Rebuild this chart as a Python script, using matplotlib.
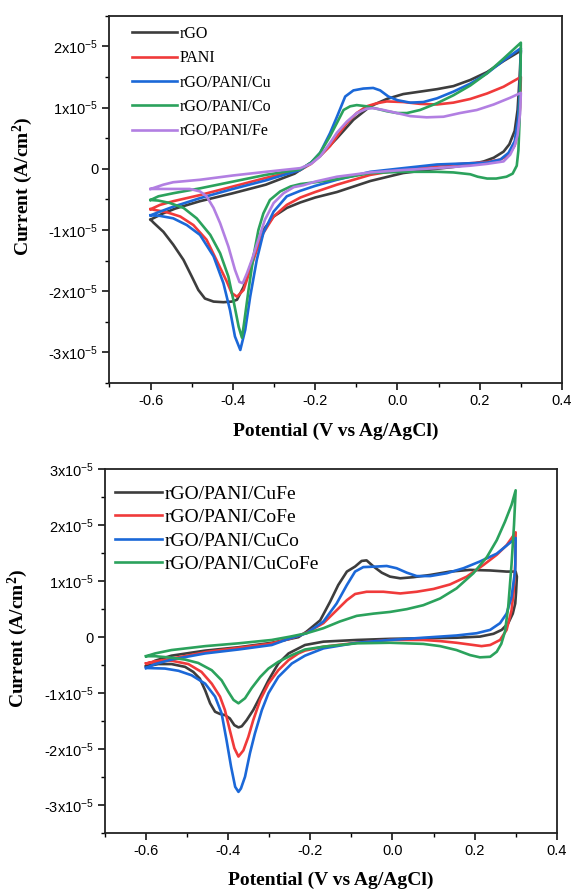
import matplotlib
matplotlib.use("Agg")
import matplotlib.pyplot as plt
from matplotlib.ticker import MultipleLocator, FuncFormatter

plt.rcParams["font.family"] = "Liberation Sans"
plt.rcParams["mathtext.default"] = "regular"

# Colours (Origin style)
c_black = "#3d3d3d"
c_red = "#f03a3a"
c_blue = "#1b68d8"
c_green = "#2ba25c"
c_purple = "#b27fe2"

SCALE = 1e-5   # currents below are in units of 1e-5 A/cm2

# ---------------- Top panel ----------------

top_labels = ["rGO", "PANI", "rGO/PANI/Cu", "rGO/PANI/Co", "rGO/PANI/Fe"]

rgo_v = [-0.6, -0.57, -0.54, -0.48, -0.40, -0.32, -0.25, -0.21, -0.188, -0.147, -0.107, -0.066,
         -0.026, 0.014, 0.055, 0.096, 0.136, 0.177, 0.218, 0.258, 0.30,
         0.297, 0.292, 0.285, 0.272, 0.258, 0.234, 0.21, 0.177, 0.136, 0.096, 0.014, -0.066,
         -0.147, -0.20, -0.236, -0.269, -0.301, -0.326, -0.342, -0.358, -0.374, -0.39, -0.403,
         -0.423, -0.447, -0.468, -0.484, -0.50, -0.52, -0.545, -0.569, -0.593, -0.60]
rgo_i = [-0.83, -0.73, -0.65, -0.53, -0.40, -0.26, -0.08, 0.10, 0.21, 0.50, 0.80, 1.02,
         1.14, 1.22, 1.26, 1.30, 1.35, 1.45, 1.58, 1.76, 1.93,
         1.50, 0.96, 0.62, 0.40, 0.28, 0.18, 0.12, 0.07, 0.03, 0.00, -0.07, -0.20,
         -0.38, -0.47, -0.55, -0.64, -0.78, -1.00, -1.27, -1.60, -1.93, -2.14, -2.17,
         -2.18, -2.17, -2.12, -1.98, -1.76, -1.49, -1.24, -1.03, -0.88, -0.83]

pani_v = [-0.6, -0.577, -0.545, -0.48, -0.40, -0.32, -0.236, -0.21, -0.188, -0.164, -0.147,
          -0.123, -0.099, -0.075, -0.05, -0.026, 0.014, 0.055, 0.096, 0.136, 0.177, 0.218,
          0.258, 0.30,
          0.298, 0.293, 0.285, 0.27, 0.25, 0.218, 0.177, 0.096, 0.014, -0.066, -0.147, -0.20,
          -0.236, -0.269, -0.301, -0.326, -0.342, -0.358, -0.374, -0.39, -0.403, -0.415,
          -0.44, -0.464, -0.496, -0.528, -0.561, -0.60]
pani_i = [-0.66, -0.59, -0.53, -0.43, -0.29, -0.15, -0.02, 0.08, 0.21, 0.37, 0.53,
          0.75, 0.91, 1.02, 1.07, 1.10, 1.09, 1.06, 1.05, 1.08, 1.14, 1.23,
          1.34, 1.50,
          1.00, 0.60, 0.38, 0.22, 0.15, 0.11, 0.09, 0.05, -0.01, -0.10, -0.26, -0.38,
          -0.47, -0.59, -0.78, -1.05, -1.33, -1.65, -1.98, -2.09, -2.03, -1.84,
          -1.49, -1.16, -0.92, -0.78, -0.71, -0.66]

cu_v = [-0.6, -0.577, -0.545, -0.48, -0.40, -0.32, -0.236, -0.21, -0.188, -0.164, -0.147,
        -0.127, -0.107, -0.083, -0.059, -0.042, -0.022, 0.0, 0.031, 0.063, 0.096, 0.136,
        0.177, 0.218, 0.258, 0.30,
        0.297, 0.293, 0.285, 0.27, 0.25, 0.218, 0.177, 0.096, 0.014, -0.066, -0.147, -0.20,
        -0.236, -0.269, -0.301, -0.326, -0.342, -0.358, -0.370, -0.382, -0.395, -0.407,
        -0.423, -0.447, -0.48, -0.512, -0.545, -0.577, -0.60]
cu_i = [-0.76, -0.70, -0.62, -0.48, -0.33, -0.19, -0.02, 0.10, 0.26, 0.58, 0.85,
        1.18, 1.28, 1.31, 1.32, 1.28, 1.18, 1.12, 1.08, 1.09, 1.15, 1.26,
        1.39, 1.56, 1.77, 1.97,
        1.20, 0.80, 0.45, 0.26, 0.15, 0.10, 0.09, 0.07, 0.01, -0.05, -0.18, -0.28,
        -0.36, -0.45, -0.70, -1.05, -1.49, -2.09, -2.63, -2.96, -2.74, -2.31,
        -1.87, -1.43, -1.08, -0.92, -0.81, -0.77, -0.76]

co_v = [-0.6, -0.581, -0.545, -0.48, -0.40, -0.32, -0.236, -0.21, -0.188, -0.164, -0.147,
        -0.131, -0.115, -0.099, -0.075, -0.05, -0.026, -0.001, 0.023, 0.055, 0.096, 0.136,
        0.177, 0.218, 0.258, 0.30,
        0.299, 0.297, 0.294, 0.29, 0.28, 0.265, 0.24, 0.218, 0.195, 0.177, 0.136, 0.096,
        0.014, -0.066, -0.147, -0.20, -0.236, -0.26, -0.285, -0.31, -0.326, -0.338, -0.35,
        -0.362, -0.373, -0.378, -0.386, -0.399, -0.411, -0.431, -0.455, -0.488, -0.52,
        -0.553, -0.581, -0.60]
co_i = [-0.51, -0.45, -0.40, -0.32, -0.21, -0.10, -0.01, 0.10, 0.26, 0.53, 0.75,
        0.96, 1.02, 1.04, 1.02, 0.98, 0.94, 0.91, 0.91, 0.96, 1.07, 1.20,
        1.36, 1.56, 1.80, 2.06,
        1.50, 0.80, 0.30, 0.05, -0.08, -0.13, -0.16, -0.16, -0.13, -0.09, -0.06, -0.05,
        -0.05, -0.07, -0.17, -0.22, -0.25, -0.29, -0.37, -0.51, -0.73, -1.00, -1.43,
        -1.98, -2.53, -2.76, -2.58, -2.14, -1.76, -1.38, -1.08, -0.81, -0.64,
        -0.56, -0.52, -0.51]

fe_v = [-0.6, -0.569, -0.545, -0.48, -0.40, -0.32, -0.236, -0.21, -0.188, -0.164, -0.147,
        -0.123, -0.099, -0.075, -0.059, -0.034, -0.001, 0.031, 0.071, 0.112, 0.152, 0.193,
        0.234, 0.274, 0.30,
        0.298, 0.292, 0.285, 0.274, 0.258, 0.218, 0.177, 0.096, 0.014, -0.066, -0.147, -0.20,
        -0.229, -0.252, -0.277, -0.301, -0.322, -0.338, -0.354, -0.366, -0.376, -0.384,
        -0.395, -0.411, -0.431, -0.447, -0.464, -0.48, -0.505, -0.537, -0.569, -0.60]
fe_i = [-0.33, -0.26, -0.22, -0.18, -0.11, -0.05, 0.01, 0.08, 0.20, 0.42, 0.59,
        0.77, 0.91, 0.98, 0.99, 0.96, 0.91, 0.86, 0.84, 0.85, 0.91, 0.96,
        1.05, 1.16, 1.24,
        0.90, 0.55, 0.38, 0.23, 0.12, 0.08, 0.05, 0.01, -0.02, -0.06, -0.13, -0.21,
        -0.27, -0.30, -0.40, -0.56, -0.83, -1.16, -1.49, -1.71, -1.87, -1.85,
        -1.65, -1.27, -0.89, -0.64, -0.45, -0.37, -0.33, -0.33, -0.33, -0.33]

# ---------------- Bottom panel ----------------

bottom_labels = ["rGO/PANI/CuFe", "rGO/PANI/CoFe", "rGO/PANI/CuCo", "rGO/PANI/CuCoFe"]

cufe_v = [-0.6, -0.578, -0.538, -0.456, -0.375, -0.294, -0.229, -0.209, -0.176, -0.152, -0.132,
          -0.111, -0.091, -0.075, -0.063, -0.046, -0.026, -0.006, 0.019, 0.051, 0.092, 0.14,
          0.189, 0.238, 0.278, 0.30,
          0.303, 0.301, 0.299, 0.293, 0.282, 0.266, 0.246, 0.213, 0.156, 0.075, -0.006,
          -0.087, -0.168, -0.213, -0.229, -0.253, -0.278, -0.302, -0.322, -0.339, -0.355,
          -0.367, -0.375, -0.385, -0.396, -0.408, -0.42, -0.432, -0.444, -0.456, -0.469,
          -0.485, -0.505, -0.538, -0.57, -0.60]
cufe_i = [-0.52, -0.42, -0.33, -0.24, -0.18, -0.10, 0.00, 0.10, 0.30, 0.63, 0.93,
          1.17, 1.26, 1.36, 1.37, 1.26, 1.15, 1.08, 1.05, 1.07, 1.11, 1.17,
          1.20, 1.19, 1.17, 1.17,
          1.08, 0.80, 0.60, 0.42, 0.25, 0.13, 0.06, 0.01, -0.01, -0.02, -0.03,
          -0.05, -0.08, -0.14, -0.20, -0.29, -0.47, -0.77, -1.06, -1.30, -1.48,
          -1.59, -1.61, -1.57, -1.45, -1.39, -1.37, -1.33, -1.18, -0.95, -0.74,
          -0.62, -0.53, -0.48, -0.48, -0.52]

cofe_v = [-0.6, -0.55, -0.50, -0.45, -0.375, -0.30, -0.25, -0.209, -0.168, -0.136, -0.111,
          -0.091, -0.063, -0.022, 0.019, 0.059, 0.10, 0.14, 0.181, 0.222, 0.254, 0.278, 0.30,
          0.299, 0.295, 0.29, 0.278, 0.262, 0.238, 0.217, 0.197, 0.156, 0.116, 0.075, -0.006,
          -0.087, -0.168, -0.213, -0.229, -0.253, -0.278, -0.302, -0.322, -0.339, -0.351,
          -0.363, -0.375, -0.385, -0.396, -0.408, -0.42, -0.44, -0.465, -0.497, -0.538,
          -0.578, -0.60]
cofe_i = [-0.47, -0.40, -0.33, -0.26, -0.19, -0.12, -0.03, 0.08, 0.25, 0.48, 0.66,
          0.77, 0.81, 0.81, 0.78, 0.81, 0.86, 0.94, 1.08, 1.29, 1.47, 1.64, 1.87,
          1.30, 0.80, 0.48, 0.13, -0.05, -0.14, -0.16, -0.14, -0.10, -0.07, -0.05, -0.05,
          -0.10, -0.17, -0.24, -0.29, -0.41, -0.59, -0.83, -1.12, -1.48, -1.78,
          -2.02, -2.13, -1.98, -1.66, -1.30, -1.06, -0.83, -0.62, -0.48, -0.42,
          -0.43, -0.47]

cuco_v = [-0.6, -0.578, -0.538, -0.456, -0.375, -0.294, -0.249, -0.209, -0.168, -0.136, -0.111,
          -0.091, -0.071, -0.038, -0.014, 0.01, 0.035, 0.059, 0.092, 0.132, 0.173, 0.213,
          0.254, 0.294, 0.30,
          0.299, 0.29, 0.278, 0.262, 0.238, 0.205, 0.156, 0.075, -0.006, -0.087, -0.168,
          -0.213, -0.245, -0.278, -0.302, -0.318, -0.335, -0.347, -0.359, -0.369, -0.375,
          -0.383, -0.393, -0.404, -0.416, -0.432, -0.456, -0.489, -0.521, -0.554, -0.60]
cuco_i = [-0.55, -0.48, -0.40, -0.29, -0.22, -0.14, -0.02, 0.07, 0.28, 0.60, 0.93,
          1.17, 1.25, 1.26, 1.27, 1.23, 1.15, 1.09, 1.09, 1.14, 1.23, 1.35,
          1.49, 1.73, 1.77,
          1.20, 0.72, 0.42, 0.25, 0.13, 0.07, 0.03, -0.01, -0.05, -0.10, -0.20,
          -0.33, -0.47, -0.71, -1.00, -1.30, -1.72, -2.07, -2.49, -2.70, -2.76,
          -2.67, -2.31, -1.84, -1.36, -1.06, -0.83, -0.68, -0.60, -0.56, -0.55]

cucofe_v = [-0.6, -0.578, -0.538, -0.456, -0.375, -0.294, -0.249, -0.209, -0.168, -0.128,
            -0.087, -0.046, -0.006, 0.035, 0.075, 0.116, 0.156, 0.197, 0.23, 0.254, 0.274,
            0.29, 0.30,
            0.296, 0.29, 0.282, 0.274, 0.265, 0.254, 0.238, 0.213, 0.189, 0.156, 0.116, 0.075,
            -0.006, -0.087, -0.168, -0.213, -0.245, -0.278, -0.302, -0.322, -0.343, -0.359,
            -0.375, -0.387, -0.40, -0.416, -0.44, -0.473, -0.505, -0.546, -0.578, -0.60]
cucofe_i = [-0.34, -0.29, -0.23, -0.16, -0.11, -0.05, 0.01, 0.07, 0.16, 0.28,
            0.38, 0.42, 0.45, 0.50, 0.57, 0.69, 0.87, 1.14, 1.43, 1.73, 2.06,
            2.36, 2.62,
            2.00, 1.30, 0.55, 0.10, -0.12, -0.26, -0.35, -0.36, -0.32, -0.23, -0.16, -0.12,
            -0.10, -0.11, -0.17, -0.22, -0.32, -0.44, -0.56, -0.71, -0.91, -1.09,
            -1.18, -1.12, -0.97, -0.77, -0.59, -0.46, -0.40, -0.36, -0.34, -0.34]


def sci_fmt(value, pos):
    n = int(round(value / SCALE))
    if n == 0:
        return "0"
    return f"{n}x10$^{{-5}}$"


def style_axes(ax, ylim, xlabel_y, ylabel_xy):
    ax.set_xlim(-0.7, 0.4)
    ax.set_ylim(ylim[0] * SCALE, ylim[1] * SCALE)
    ax.xaxis.set_major_locator(MultipleLocator(0.2))
    ax.xaxis.set_minor_locator(MultipleLocator(0.1))
    ax.yaxis.set_major_locator(MultipleLocator(1e-5))
    ax.yaxis.set_minor_locator(MultipleLocator(0.5e-5))
    ax.xaxis.set_major_formatter(FuncFormatter(lambda v, p: f"{v:.1f}"))
    ax.yaxis.set_major_formatter(FuncFormatter(sci_fmt))
    ax.tick_params(which="major", direction="out", length=5, width=1.1,
                   labelsize=10.5, pad=3)
    ax.tick_params(which="minor", direction="out", length=3, width=1.0)
    for s in ax.spines.values():
        s.set_linewidth(1.3)
        s.set_color("#222222")
    ax.set_xlabel("Potential (V vs Ag/AgCl)", family="Liberation Serif",
                  fontweight="bold", fontsize=14)
    ax.set_ylabel("Current (A/cm$^2$)", family="Liberation Serif",
                  fontweight="bold", fontsize=14)
    ax.xaxis.set_label_coords(0.5, xlabel_y)
    ax.yaxis.set_label_coords(ylabel_xy[0], ylabel_xy[1])


fig = plt.figure(figsize=(5.75, 8.93), dpi=100)

# Top panel
ax1 = fig.add_axes([0.1904, 0.5711, 0.787, 0.4113])
top_curves = [(rgo_v, rgo_i, c_black), (pani_v, pani_i, c_red), (cu_v, cu_i, c_blue),
              (co_v, co_i, c_green), (fe_v, fe_i, c_purple)]
for (v, i, col), lab in zip(top_curves, top_labels):
    ax1.plot(v, [x * SCALE for x in i], color=col, lw=1.9, label=lab,
             solid_joinstyle="round")
style_axes(ax1, (-3.5, 2.5), -0.109, (-0.165, 0.534))
ax1.legend(loc="upper left", bbox_to_anchor=(0.05, 0.972), frameon=False,
           prop={"family": "Liberation Serif", "size": 11.5},
           handlelength=2.8, handletextpad=0.2, labelspacing=0.52,
           borderpad=0, borderaxespad=0)

# Bottom panel
ax2 = fig.add_axes([0.1826, 0.0668, 0.7856, 0.408])
bottom_curves = [(cufe_v, cufe_i, c_black), (cofe_v, cofe_i, c_red),
                 (cuco_v, cuco_i, c_blue), (cucofe_v, cucofe_i, c_green)]
for (v, i, col), lab in zip(bottom_curves, bottom_labels):
    ax2.plot(v, [x * SCALE for x in i], color=col, lw=1.9, label=lab,
             solid_joinstyle="round")
style_axes(ax2, (-3.5, 3.0), -0.104, (-0.166, 0.536))
ax2.legend(loc="upper left", bbox_to_anchor=(0.023, 0.956), frameon=False,
           prop={"family": "Liberation Serif", "size": 14},
           handlelength=2.4, handletextpad=0.12, labelspacing=0.30,
           borderpad=0, borderaxespad=0)

fig.savefig("out.png", dpi=100)
